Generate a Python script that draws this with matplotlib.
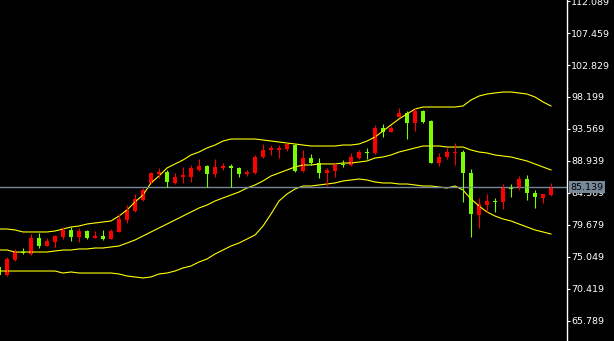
import matplotlib
matplotlib.use('Agg')
import matplotlib.pyplot as plt, numpy as np
from matplotlib.transforms import blended_transform_factory

# Candle data (oldest to newest)
opens = [73.60, 72.44, 74.62, 75.77, 75.48, 77.80, 76.64, 77.22, 77.94, 78.96,
         77.94, 78.81, 77.80, 78.09, 77.65, 78.67, 80.40, 81.70, 83.30, 85.76,
         87.06, 87.35, 85.76, 86.62, 86.62, 87.64, 88.22, 87.06, 87.93, 88.22,
         87.93, 87.06, 87.20, 89.52, 90.53, 90.53, 90.68, 91.25, 87.49, 89.37,
         88.65, 87.20, 87.49, 88.51, 88.36, 89.37, 90.24, 90.10, 93.71, 93.14,
         95.31, 95.88, 94.44, 96.17, 94.73, 88.65, 89.52, 90.10, 90.24, 87.20,
         81.13, 82.57, 83.15, 83.01, 85.03, 85.03, 86.33, 84.31, 83.59, 84.02]
highs = [73.75, 75.05, 76.21, 76.35, 78.38, 78.52, 77.80, 78.23, 79.39, 79.39,
         79.25, 78.95, 78.81, 78.96, 79.10, 81.27, 82.57, 84.16, 85.03, 87.35,
         87.93, 87.64, 87.20, 88.07, 88.36, 89.23, 88.36, 89.23, 88.65, 88.51,
         88.07, 87.64, 89.81, 91.40, 91.25, 91.25, 91.54, 91.40, 90.53, 89.95,
         89.37, 87.93, 88.65, 89.08, 90.10, 90.53, 90.82, 94.15, 94.29, 94.00,
         96.61, 96.17, 96.61, 96.32, 94.87, 90.10, 90.82, 91.54, 90.53, 87.78,
         83.59, 84.16, 83.59, 85.61, 85.61, 86.77, 86.91, 84.74, 84.16, 85.76]
lows = [72.30, 72.30, 74.47, 75.48, 75.34, 76.35, 76.64, 76.50, 77.65, 77.36,
        77.22, 77.65, 77.80, 77.55, 77.60, 78.60, 79.97, 81.56, 83.15, 85.70,
        86.48, 85.18, 85.61, 85.76, 85.90, 87.55, 85.18, 86.62, 87.64, 85.18,
        86.62, 86.77, 87.06, 89.37, 89.81, 89.37, 90.39, 87.35, 87.35, 88.36,
        86.48, 85.32, 86.62, 88.07, 88.22, 89.23, 89.23, 89.95, 92.41, 93.10,
        95.25, 92.12, 93.28, 94.44, 88.60, 88.22, 89.23, 88.36, 83.01, 77.94,
        79.25, 81.56, 81.56, 81.99, 83.73, 84.74, 83.30, 82.14, 82.86, 83.88]
closes = [72.44, 74.76, 75.77, 75.63, 77.80, 76.64, 77.36, 78.09, 78.96, 77.94,
          78.81, 77.80, 78.09, 77.65, 78.81, 80.55, 81.85, 83.44, 84.74, 87.20,
          87.35, 85.90, 86.62, 86.91, 87.93, 88.22, 87.06, 88.07, 88.22, 87.93,
          87.06, 87.35, 89.52, 90.53, 90.82, 90.82, 91.40, 87.49, 89.37, 88.65,
          87.20, 87.64, 88.36, 88.36, 89.52, 90.24, 90.10, 93.71, 93.14, 93.71,
          95.88, 94.44, 96.17, 94.58, 88.65, 89.52, 90.24, 90.24, 87.20, 81.27,
          82.72, 83.15, 83.01, 85.03, 84.89, 86.33, 84.31, 83.73, 84.16, 85.139]

# Bollinger bands
upper = [79.10, 79.10, 78.96, 78.67, 78.67, 78.67, 78.67, 78.81, 79.10, 79.39,
         79.53, 79.82, 79.97, 80.11, 80.26, 80.98, 81.85, 83.01, 84.02, 85.76,
         86.77, 87.93, 88.51, 89.08, 89.81, 90.24, 90.82, 91.25, 91.83, 92.12,
         92.12, 92.12, 92.12, 91.98, 91.83, 91.69, 91.54, 91.40, 91.25, 91.11,
         91.11, 91.11, 91.11, 91.25, 91.25, 91.40, 91.83, 92.41, 93.28, 94.15,
         95.02, 95.74, 96.46, 96.75, 96.75, 96.75, 96.75, 96.75, 96.90, 97.77,
         98.34, 98.63, 98.78, 98.92, 98.92, 98.78, 98.63, 98.20, 97.48, 96.90]
middle = [76.06, 76.06, 75.77, 75.77, 75.77, 75.77, 75.77, 75.92, 76.06, 76.06,
          76.21, 76.21, 76.35, 76.35, 76.50, 76.64, 77.07, 77.51, 78.09, 78.67,
          79.25, 79.82, 80.40, 80.98, 81.56, 82.14, 82.57, 83.15, 83.59, 84.02,
          84.45, 85.03, 85.47, 86.05, 86.77, 87.20, 87.64, 88.07, 88.36, 88.36,
          88.51, 88.51, 88.51, 88.65, 88.65, 88.79, 88.94, 89.37, 89.52, 89.81,
          90.24, 90.53, 90.82, 91.11, 91.11, 91.11, 90.96, 90.96, 90.96, 90.53,
          90.24, 90.10, 89.81, 89.66, 89.52, 89.23, 88.94, 88.51, 88.07, 87.64]
lower = [73.02, 73.02, 73.02, 73.02, 73.02, 73.02, 73.02, 73.02, 72.73, 72.88,
         72.73, 72.73, 72.73, 72.73, 72.73, 72.59, 72.30, 72.16, 72.01, 72.16,
         72.59, 72.73, 73.02, 73.46, 73.75, 74.33, 74.76, 75.48, 76.06, 76.64,
         77.07, 77.65, 78.23, 79.53, 81.27, 83.15, 84.16, 84.89, 85.32, 85.32,
         85.47, 85.61, 85.76, 86.05, 86.19, 86.33, 86.19, 85.90, 85.76, 85.76,
         85.61, 85.61, 85.47, 85.32, 85.32, 85.18, 85.03, 85.32, 84.74, 83.44,
         82.43, 81.56, 80.98, 80.55, 80.26, 79.82, 79.39, 78.96, 78.67, 78.38]

# Price scale labels
ytick_labels = ['65.789', '70.419', '75.049', '79.679', '84.309', '88.939',
                '93.569', '98.199', '102.829', '107.459', '112.089']

bid = closes[-1]

# Figure setup
fig = plt.figure(figsize=(6.14, 3.41), dpi=100, facecolor='black')
ax = fig.add_axes([0, 0, 567 / 614, 1])
ax.set_facecolor('black')

x = np.arange(len(opens))
up_col = '#ff0000'
down_col = '#7cfc00'

# Bands
ax.plot(x, upper, color='#ffff00', lw=0.8)
ax.plot(x, middle, color='#ffff00', lw=0.8)
ax.plot(x, lower, color='#ffff00', lw=0.8)

# Bid line
ax.axhline(bid, color='#778899', lw=1)

# Candles
for i in range(len(opens)):
    col = up_col if closes[i] >= opens[i] else down_col
    ax.vlines(x[i], lows[i], highs[i], color=col, lw=0.8)
    bottom = min(opens[i], closes[i])
    height = max(abs(closes[i] - opens[i]), 0.15)
    ax.bar(x[i], height, bottom=bottom, width=0.6, color=col, linewidth=0)

ax.set_xlim(0.125, 71.0)
ax.set_ylim(62.894, 112.234)

# Right price axis
yt = [float(s) for s in ytick_labels]
ax.yaxis.tick_right()
ax.set_yticks(yt)
ax.set_yticklabels(ytick_labels)
ax.tick_params(axis='y', colors='white', labelsize=6.8, length=2, width=0.8, pad=1)
ax.set_xticks([])
for s in ['top', 'bottom', 'left']:
    ax.spines[s].set_visible(False)
ax.spines['right'].set_color('white')
ax.spines['right'].set_linewidth(1)

# Bid price label box
trans = blended_transform_factory(ax.transAxes, ax.transData)
ax.text(1.006, bid, '%.3f' % bid, transform=trans, color='black', fontsize=6.8,
        va='center', ha='left', clip_on=False, zorder=10,
        bbox=dict(boxstyle='square,pad=0.15', facecolor='#778899', edgecolor='none'))

plt.savefig('out.png', dpi=100, facecolor='black')
